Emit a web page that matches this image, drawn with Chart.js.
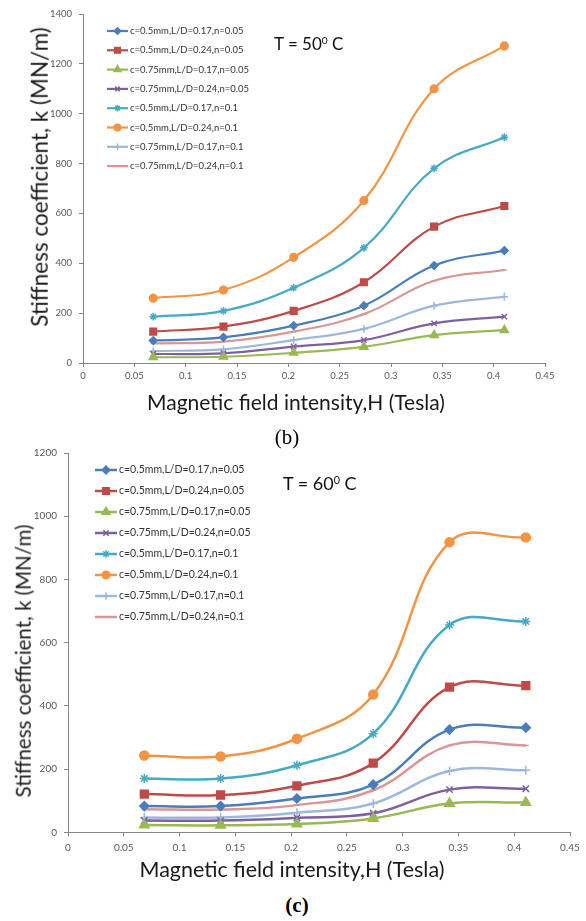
<!DOCTYPE html>
<html>
<head>
<meta charset="utf-8">
<script src="https://cdn.jsdelivr.net/npm/chart.js@4.4.1/dist/chart.umd.min.js"></script>
<style>
  body { margin: 0; width: 586px; height: 921px; background: #fff; position: relative; overflow: hidden; font-family: Lato, sans-serif; }
  canvas { position: absolute; left: 0; }
  #chartB { top: 0; }
  #chartC { top: 440px; }
  .temp { position: absolute; color: #111; white-space: nowrap; line-height: 1; }
  .temp sup { font-size: 0.6em; vertical-align: 0.55em; line-height: 0; }
  .cap { position: absolute; font-family: "Liberation Serif", serif; font-size: 21px; line-height: 22px; transform: translateX(-50%); color: #000; }
  .ax { position: absolute; white-space: nowrap; color: #1a1a1a; line-height: 1; transform: translate(-50%, -50%); }
  .ax.rot { transform: translate(-50%, -50%) rotate(-90deg); }
</style>
</head>
<body>
<canvas id="chartB" width="586" height="420"></canvas>
<canvas id="chartC" width="586" height="450"></canvas>
<div class="temp" style="left:274px; top:35px; font-size:17px;">T = 50<sup>0</sup> C</div>
<div class="temp" style="left:283px; top:474px; font-size:18px;">T = 60<sup>0</sup> C</div>
<div class="ax" style="left:296px; top:401px; font-size:21px;">Magnetic field intensity,H (Tesla)</div>
<div class="ax rot" style="left:40px; top:177px; font-size:22.5px;">Stiffness coefficient, k (MN/m)</div>
<div class="ax" style="left:292px; top:870px; font-size:21.5px;">Magnetic field intensity,H (Tesla)</div>
<div class="ax rot" style="left:23px; top:661px; font-size:20.5px;">Stiffness coefficient, k (MN/m)</div>
<div class="cap" style="left:287px; top:426px;">(b)</div>
<div class="cap" style="left:297px; top:894px; font-weight:bold;">(c)</div>
<script>
// magnetic field intensity H (Tesla)
const hTesla = [0.0684, 0.1368, 0.2052, 0.2736, 0.342, 0.4104];

const seriesLabels = [
  'c=0.5mm,L/D=0.17,n=0.05',
  'c=0.5mm,L/D=0.24,n=0.05',
  'c=0.75mm,L/D=0.17,n=0.05',
  'c=0.75mm,L/D=0.24,n=0.05',
  'c=0.5mm,L/D=0.17,n=0.1',
  'c=0.5mm,L/D=0.24,n=0.1',
  'c=0.75mm,L/D=0.17,n=0.1',
  'c=0.75mm,L/D=0.24,n=0.1'
];

// stiffness k (MN/m) at T = 50 C
const k50_s1 = [90, 103, 150, 230, 391, 451];
const k50_s2 = [126, 146, 209, 324, 547, 630];
const k50_s3 = [23, 25, 41, 65, 112, 132];
const k50_s4 = [36, 39, 66, 92, 159, 186];
const k50_s5 = [186, 209, 302, 462, 781, 906];
const k50_s6 = [260, 293, 424, 652, 1100, 1272];
const k50_s7 = [48, 55, 92, 137, 230, 266];
const k50_s8 = [79, 86, 126, 196, 330, 373];

// stiffness k (MN/m) at T = 60 C
const k60_s1 = [83, 83, 107, 151, 325, 331];
const k60_s2 = [121, 118, 147, 219, 459, 464];
const k60_s3 = [23, 22, 26, 44, 91, 94];
const k60_s4 = [37, 37, 46, 60, 135, 138];
const k60_s5 = [170, 170, 212, 312, 656, 667];
const k60_s6 = [243, 240, 296, 436, 918, 933];
const k60_s7 = [47, 47, 62, 91, 194, 196];
const k60_s8 = [73, 72, 86, 133, 275, 275];

const xTicks = [0, 0.05, 0.1, 0.15, 0.2, 0.25, 0.3, 0.35, 0.4, 0.45];

const colors = ['#4A7EBB', '#BE4B48', '#98B954', '#7D60A0', '#46AAC5', '#F29443', '#9DB8DC', '#D99694'];
const pStyles = ['rectRot', 'rect', 'triangle', 'crossRot', 'star', 'circle', 'cross', 'line'];
const pSizes = [4.5, 5.5, 5.5, 4.5, 4.5, 4.5, 4.5, 3];

const insideLegend = {
  id: 'insideLegend',
  afterDraw(chart, args, o) {
    const ctx = chart.ctx;
    ctx.save();
    chart.data.datasets.forEach((ds, i) => {
      const y = o.y + i * o.gap;
      ctx.strokeStyle = ds.borderColor;
      ctx.lineWidth = ds.borderWidth;
      ctx.beginPath(); ctx.moveTo(o.x, y); ctx.lineTo(o.x + o.len, y); ctx.stroke();
      ctx.fillStyle = ds.pointBackgroundColor;
      ctx.strokeStyle = ds.pointBorderColor;
      ctx.lineWidth = ds.pointBorderWidth;
      Chart.helpers.drawPoint(ctx, { pointStyle: ds.pointStyle, radius: ds.pointRadius * 0.85, rotation: 0, borderWidth: ds.pointBorderWidth }, o.x + o.len / 2, y);
      ctx.fillStyle = '#333';
      ctx.font = o.font;
      ctx.textBaseline = 'middle';
      ctx.textAlign = 'left';
      ctx.fillText(ds.label, o.x + o.len + 2, y);
    });
    ctx.restore();
  }
};

function makeDatasets(rows, scale, lw) {
  return rows.map((vals, i) => ({
    label: seriesLabels[i],
    data: vals.map((v, j) => ({ x: hTesla[j], y: v })),
    borderColor: colors[i],
    backgroundColor: colors[i],
    pointBackgroundColor: colors[i],
    pointBorderColor: colors[i],
    pointBorderWidth: 1.5,
    pointStyle: pStyles[i],
    pointRadius: pSizes[i] * scale,
    borderWidth: lw,
    tension: 0.4,
    fill: false
  }));
}

function makeChart(id, rows, cfg) {
  return new Chart(document.getElementById(id), {
    type: 'line',
    data: { datasets: makeDatasets(rows, cfg.mk, cfg.lw) },
    plugins: [insideLegend],
    options: {
      responsive: false, animation: false,
      layout: { padding: cfg.pad },
      plugins: { legend: { display: false }, tooltip: { enabled: false }, insideLegend: cfg.legend },
      scales: {
        x: {
          type: 'linear', min: 0, max: 0.45,
          afterBuildTicks: s => { s.ticks = xTicks.map(v => ({ value: v })); },
          ticks: { color: '#595959', font: { family: 'Lato', size: cfg.tick }, padding: cfg.xPad, maxRotation: 0, autoSkip: false, callback: v => String(+v.toFixed(2)) },
          grid: { drawOnChartArea: false, drawTicks: true, tickLength: 4, color: '#868686' },
          border: { color: '#868686' },
          afterFit: s => { s.height = cfg.xH; }
        },
        y: {
          min: 0, max: cfg.yMax,
          ticks: { stepSize: 200, color: '#595959', font: { family: 'Lato', size: cfg.tick }, padding: cfg.yPad, callback: v => String(v) },
          grid: { drawOnChartArea: false, drawTicks: true, tickLength: 4, color: '#868686' },
          border: { color: '#868686' },
          afterFit: s => { s.width = cfg.yW; }
        }
      }
    }
  });
}

makeChart('chartB', [k50_s1, k50_s2, k50_s3, k50_s4, k50_s5, k50_s6, k50_s7, k50_s8], {
  yMax: 1400, mk: 0.85, lw: 2.2, tick: 9.5,
  pad: { left: 0, right: 41, top: 14, bottom: 0 },
  xH: 57, yW: 83, xPad: 3, yPad: 7,
  legend: { x: 107, y: 31, gap: 19.3, len: 21, font: '9.5px Lato' }
});

makeChart('chartC', [k60_s1, k60_s2, k60_s3, k60_s4, k60_s5, k60_s6, k60_s7, k60_s8], {
  yMax: 1200, mk: 1, lw: 2.5, tick: 10,
  pad: { left: 0, right: 16, top: 11, bottom: 0 },
  xH: 57.7, yW: 68, xPad: 5, yPad: 7,
  legend: { x: 95, y: 30, gap: 21, len: 22, font: '10.5px Lato' }
});
</script>
</body>
</html>
